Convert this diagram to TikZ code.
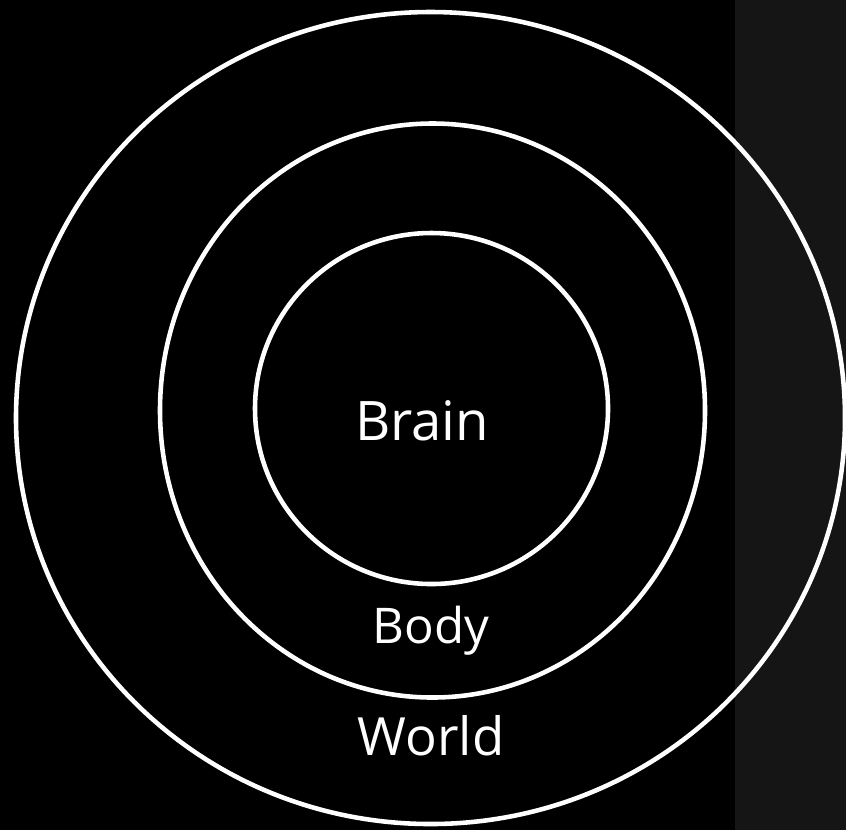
\documentclass[tikz,border=0pt]{standalone}
\usepackage{fontspec}
\setmainfont{Open Sans}
\usetikzlibrary{positioning}
\definecolor{bgdark}{HTML}{000000}
\definecolor{bgstrip}{HTML}{151515}

\tikzset{
  ring/.style={draw=white, line width=1.3pt},
  ringlabel/.style={text=white, inner sep=0pt, anchor=base}
}

\begin{document}
\begin{tikzpicture}[x=0.1mm, y=-0.1mm]
  \useasboundingbox (0,0) rectangle (846,830);

  % Background and side strip
  \fill[bgdark] (0,0) rectangle (846,830);
  \fill[bgstrip] (735,0) rectangle (846,830);

  % World ring
  \draw[ring] (430.5,418) ellipse [x radius=414.5, y radius=406];
  % Body ring
  \draw[ring] (432.5,410.5) ellipse [x radius=272.5, y radius=287];
  % Brain ring
  \draw[ring] (431.5,408.5) ellipse [x radius=176.5, y radius=175.5];

  % Labels
  \node[ringlabel, font=\fontsize{15.5pt}{19pt}\selectfont] (brain) at (422,440) {Brain};
  \node[ringlabel, font=\fontsize{14pt}{17pt}\selectfont] (body) at (431,643) {Body};
  \node[ringlabel, font=\fontsize{15pt}{18pt}\selectfont] (world) at (431,755) {World};
\end{tikzpicture}
\end{document}
